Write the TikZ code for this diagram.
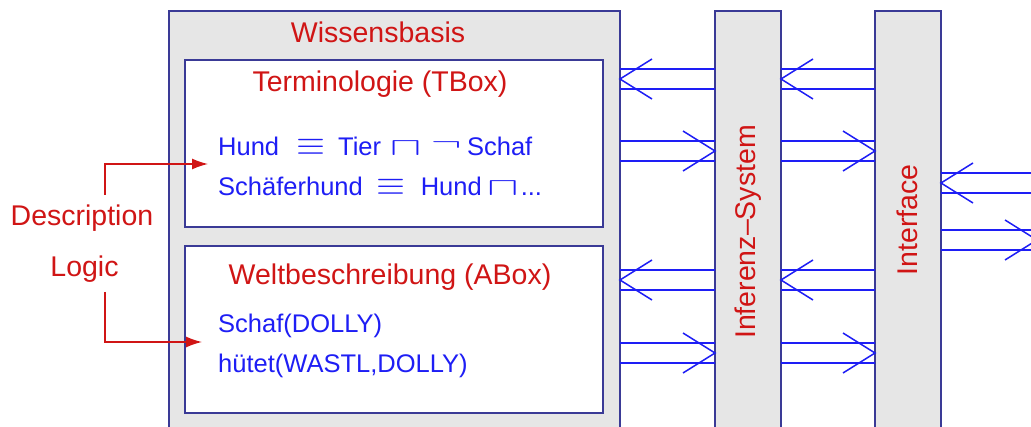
\documentclass[tikz,border=0pt]{standalone}
\usepackage{fontspec}
\setmainfont{Liberation Sans}
\usetikzlibrary{calc,arrows.meta}
\definecolor{wbgray}{HTML}{E6E6E6}
\definecolor{navy}{HTML}{3A3A96}
\definecolor{dlblue}{HTML}{1E1EF5}
\definecolor{dlred}{HTML}{D01515}
\tikzset{
  panel/.style={draw=navy, line width=1.8pt, fill=wbgray, inner sep=0pt, outer sep=0pt, anchor=north west},
  inner/.style={draw=navy, line width=1.8pt, fill=white, inner sep=0pt, outer sep=0pt, anchor=north west},
  redlabel/.style={text=dlred, font=\fontsize{28.5}{34}\selectfont, inner sep=0pt},
  bluetext/.style={text=dlblue, font=\fontsize{25.5}{30}\selectfont, inner sep=0pt, anchor=base west},
  dbl/.style={draw=dlblue, line width=1.5pt},
  redarr/.style={draw=dlred, line width=1.4pt, -{Latex[length=16pt,width=11pt]}},
}
\newcommand\myeq[1]{\makebox[#1][c]{\scalebox{1.5}[1.4]{$\equiv$}}}
\newcommand\mycap[1]{\makebox[#1][c]{\scalebox{1.9}[1]{$\sqcap$}}}
\newcommand\myneg[1]{\makebox[#1][c]{\raisebox{5pt}{\scalebox{1.85}[1]{$\neg$}}}}
\newcommand\dblarrow[4]{% #1 tail anchor, #2 tip anchor, #3 tip y, #4 wing x-offset
  \draw[dbl] (#1 |- 0,#3-10) -- (#2 |- 0,#3-10) (#1 |- 0,#3+10) -- (#2 |- 0,#3+10);
  \draw[dbl] ($(#2 |- 0,#3)+(#4,-20)$) -- (#2 |- 0,#3) -- ($(#2 |- 0,#3)+(#4,20)$);}
\begin{document}
\begin{tikzpicture}[x=1pt,y=-1pt]
\useasboundingbox (0,0) rectangle (1031,427);
\clip (0,0) rectangle (1031,427);
\fill[white] (0,0) rectangle (1031,427);
% boxes
\node[panel, minimum width=451pt, minimum height=440pt] (wb) at (169,11) {};
\node[inner, minimum width=418pt, minimum height=167pt] (tbox) at (185,60) {};
\node[inner, minimum width=418pt, minimum height=167pt] (abox) at (185,246) {};
\node[panel, minimum width=66pt, minimum height=440pt] (inf) at (715,11) {};
\node[panel, minimum width=66pt, minimum height=440pt] (intf) at (875,11) {};
% titles
\node[redlabel, anchor=base] (wbt) at (378,43) {Wissensbasis};
\node[redlabel, anchor=base] (tbt) at (380,92) {Terminologie (TBox)};
\node[redlabel, anchor=base] (abt) at (390,285) {Weltbeschreibung (ABox)};
\node[redlabel, anchor=base, rotate=90] (inft) at (755,232) {Inferenz–System};
\node[redlabel, anchor=base, rotate=90] (intft) at (917,220) {Interface};
% contents
\node[bluetext] (t1) at (218,156) {Hund\hspace{19pt}\myeq{26pt}\hspace{14pt}Tier\hspace{11pt}\mycap{27pt}\hspace{14pt}\myneg{26pt}\hspace{8pt}Schaf};
\node[bluetext] (t2) at (218,196) {Schäferhund\hspace{16pt}\myeq{25pt}\hspace{17pt}Hund\hspace{9pt}\mycap{24pt}\hspace{6pt}...};
\node[bluetext] (a1) at (218,333) {Schaf(DOLLY)};
\node[bluetext] (a2) at (218,373) {hütet(WASTL,DOLLY)};
% description logic
\node[redlabel, anchor=base] (desc) at (82,226) {Description};
\node[redlabel, anchor=base] (logic) at (84.5,277) {Logic};
\coordinate (d1) at (105,195);
\coordinate (d2) at (105,292);
\coordinate (tt) at (208,164);
\coordinate (at) at (202,342);
\draw[redarr] (d1) |- (tt);
\draw[redarr] (d2) |- (at);
% double arrows
\coordinate (rim) at (1037,0);
\dblarrow{inf.west}{wb.east}{79}{32}
\dblarrow{wb.east}{inf.west}{151}{-32}
\dblarrow{inf.west}{wb.east}{280}{32}
\dblarrow{wb.east}{inf.west}{353}{-32}
\dblarrow{intf.west}{inf.east}{79}{32}
\dblarrow{inf.east}{intf.west}{151}{-32}
\dblarrow{intf.west}{inf.east}{280}{32}
\dblarrow{inf.east}{intf.west}{353}{-32}
\dblarrow{rim}{intf.east}{183}{32}
\dblarrow{intf.east}{rim}{240}{-32}
\end{tikzpicture}
\end{document}
